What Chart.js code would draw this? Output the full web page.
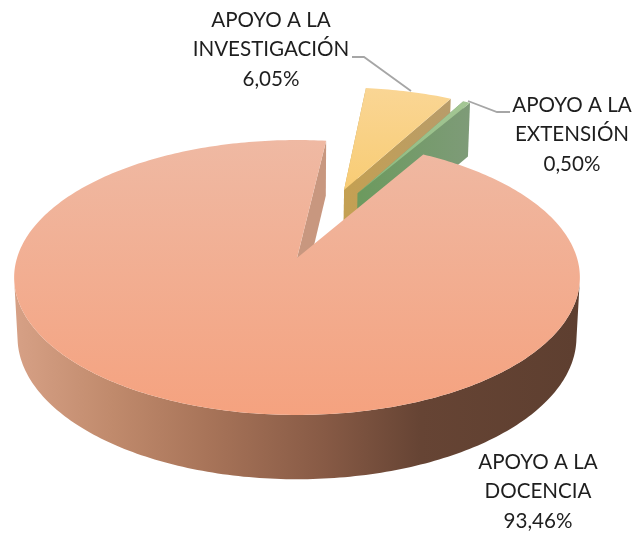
<!DOCTYPE html>
<html>
<head>
<meta charset="utf-8">
<style>
html,body{margin:0;padding:0;background:#fff;}
#wrap{width:637px;height:535px;position:relative;overflow:hidden;}
canvas{filter:blur(0.4px);}
</style>
<script src="https://cdn.jsdelivr.net/npm/chart.js@4"></script>
</head>
<body>
<div id="wrap"><canvas id="c"></canvas></div>
<script>
const categories = ["APOYO A LA DOCENCIA", "APOYO A LA INVESTIGACIÓN", "APOYO A LA EXTENSIÓN"];
const labelLines = [["APOYO A LA", "DOCENCIA"], ["APOYO A LA", "INVESTIGACIÓN"], ["APOYO A LA", "EXTENSIÓN"]];
const values = [93.46, 6.05, 0.50];
const baseColors = ["#F2AC8E", "#F9D388", "#86AD76"];

// Appearance of the tilted pie
const view = {
  xScale: 1.0853, yScale: 0.5221, persp: 0.1418,
  depthA: 27, depthB: 32, lowerShrink: 0.988
};
const paintOrder = [1, 2, 0];
const explodeX = [0, 0.181, 0.2326];
const explodeY = [0, -0.5436, -0.515];
const looks = [
  { top: [[0, "#EFB9A3"], [1, "#F5A27F"]], yTop: 140, yBot: 416,
    wall: [[0, "#C8977F"], [1, "#C8977F"]], wallX: [297, 328],
    rim: [[0, "#D6A085"], [0.17, "#C08A6C"], [0.34, "#A87459"], [0.55, "#875A45"], [0.72, "#664434"], [1, "#5E3F30"]] },
  { top: [[0, "#FAD695"], [1, "#F8CC74"]], yTop: 87, yBot: 190,
    wall: [[0, "#C4A052"], [1, "#B89C6A"]], wallX: [344, 452],
    rim: null },
  { top: [[0, "#A4C795"], [1, "#8CB87C"]], yTop: 100, yBot: 193,
    wall: [[0, "#6C9A5E"], [1, "#7E9B78"]], wallX: [358, 470],
    rim: null }
];
const labelPlace = [
  { x: 538, y: 462 }, { x: 271, y: 20 }, { x: 572, y: 105 }
];
const leaders = [
  null,
  [[352, 57], [364, 57], [411, 91]],
  [[468, 101], [497, 112], [510, 112]]
];
const fontSize = 20.6, lineGap = 29.5;

function makeGrad(ctx, x0, y0, x1, y1, stops) {
  const g = ctx.createLinearGradient(x0, y0, x1, y1);
  stops.forEach(s => g.addColorStop(s[0], s[1]));
  return g;
}

const pie3d = {
  id: "pie3d",
  beforeDatasetDraw(chart, args) {
    const ctx = chart.ctx;
    const arcs = chart.getDatasetMeta(args.index).data;
    const first = arcs[0];
    const R = first.outerRadius, ox = first.x, oy = first.y;
    const rx = R * view.xScale, ry = R * view.yScale, p = view.persp;

    function project(u, v, low) {
      const w = 1 - p * v;
      const drop = low ? view.depthA + view.depthB / w : 0;
      const k = low ? view.lowerShrink : 1;
      return [ox + k * rx * u / w, oy + ry * v / w + drop];
    }
    function arcPts(i, low, frontOnly) {
      const a0 = arcs[i].startAngle, a1 = arcs[i].endAngle;
      const n = Math.max(12, Math.ceil((a1 - a0) * 60));
      const pts = [];
      for (let s = 0; s <= n; s++) {
        const a = a0 + (a1 - a0) * s / n;
        if (frontOnly && Math.sin(a) < p) continue;
        pts.push(project(explodeX[i] + Math.cos(a), explodeY[i] + Math.sin(a), low));
      }
      return pts;
    }
    function poly(pts, fill) {
      ctx.beginPath();
      pts.forEach((q, j) => j ? ctx.lineTo(q[0], q[1]) : ctx.moveTo(q[0], q[1]));
      ctx.closePath();
      ctx.fillStyle = fill;
      ctx.fill();
    }

    ctx.save();
    paintOrder.forEach(i => {
      const look = looks[i];
      const topArc = arcPts(i, false, false), lowArc = arcPts(i, true, false);
      const apexT = project(explodeX[i], explodeY[i], false);
      const apexB = project(explodeX[i], explodeY[i], true);
      const wallFill = makeGrad(ctx, look.wallX[0], 0, look.wallX[1], 0, look.wall);
      const nT = topArc.length - 1;

      if (look.rim) {
        const frontTop = arcPts(i, false, true), frontLow = arcPts(i, true, true);
        poly(frontTop.concat(frontLow.slice().reverse()),
          makeGrad(ctx, ox - rx, 0, ox + rx, 0, look.rim));
        // only the cut wall that faces the viewer
        poly([apexT, topArc[nT], lowArc[nT], apexB], wallFill);
      } else {
        poly([apexT, topArc[0], lowArc[0], apexB], wallFill);
        poly([apexT, topArc[nT], lowArc[nT], apexB], wallFill);
      }
      poly([apexT].concat(topArc),
        makeGrad(ctx, 0, look.yTop, 0, look.yBot, look.top));
    });
    ctx.restore();
    return false;
  },
  afterDraw(chart) {
    const ctx = chart.ctx;
    ctx.save();
    ctx.strokeStyle = "#A6A6A6";
    ctx.lineWidth = 1.8;
    leaders.forEach(l => {
      if (!l) return;
      ctx.beginPath();
      l.forEach((q, j) => j ? ctx.lineTo(q[0], q[1]) : ctx.moveTo(q[0], q[1]));
      ctx.stroke();
    });
    ctx.fillStyle = "#1E1E1E";
    ctx.font = fontSize + 'px Lato, "Open Sans", sans-serif';
    ctx.textAlign = "center";
    ctx.textBaseline = "middle";
    labelLines.forEach((lines, i) => {
      const all = lines.concat([values[i].toFixed(2).replace(".", ",") + "%"]);
      all.forEach((t, j) => ctx.fillText(t, labelPlace[i].x, labelPlace[i].y + j * lineGap));
    });
    ctx.restore();
  }
};

new Chart(document.getElementById("c"), {
  type: "pie",
  data: {
    labels: categories,
    datasets: [{ data: values, backgroundColor: baseColors, borderWidth: 0 }]
  },
  options: {
    responsive: true,
    maintainAspectRatio: false,
    animation: false,
    rotation: 30.4,
    layout: { padding: { left: 0, right: 43, top: 0, bottom: 19 } },
    plugins: { legend: { display: false }, tooltip: { enabled: false } }
  },
  plugins: [pie3d]
});
</script>
</body>
</html>
